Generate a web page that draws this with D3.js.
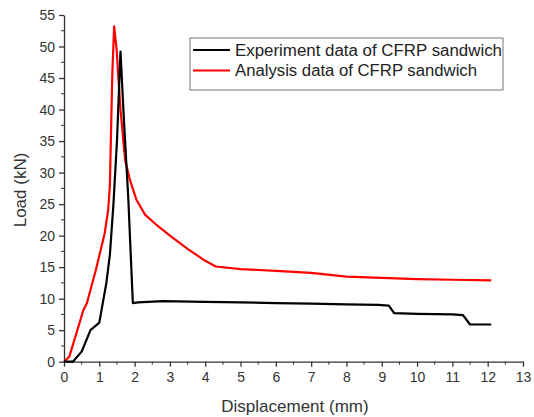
<!DOCTYPE html>
<html><head><meta charset="utf-8">
<script src="https://cdn.jsdelivr.net/npm/d3@7"></script>
<style>body{margin:0;background:#fff}svg{display:block}text{font-family:"Liberation Sans",Arial,sans-serif}</style>
</head><body><svg id="c" width="534" height="417"></svg>
<script>
const seriesNames = ["Experiment data of CFRP sandwich", "Analysis data of CFRP sandwich"];
const seriesColors = ["#000000", "#ff0000"];
const experimentX = [0,0.25,0.5,0.75,1.0,1.2,1.3,1.4,1.5,1.6,1.7,1.82,1.95,2.1,2.8,4,5,6,7,8,8.9,9.2,9.35,10,11,11.3,11.5,12.1];
const experimentY = [0,0,1.6,5,6.2,12.5,17,25,35,49.2,38,26,9.3,9.4,9.6,9.5,9.4,9.3,9.2,9.1,9.0,8.9,7.7,7.6,7.5,7.4,5.9,5.9];
const analysisX = [0,0.15,0.35,0.55,0.65,0.9,1.15,1.25,1.3,1.33,1.37,1.42,1.49,1.6,1.73,1.87,2.05,2.3,2.6,3.0,3.5,4.0,4.3,5,6,7,8,9,10,11,12.1];
const analysisY = [0,0.8,4.5,8.2,9.3,14.5,20.3,24,28,36,46,53.2,49.5,40,32,28.8,25.7,23.3,21.8,20,17.9,16,15.1,14.7,14.4,14.1,13.5,13.3,13.1,13,12.9];
const xTicks = [0,1,2,3,4,5,6,7,8,9,10,11,12,13];
const yTicks = [0,5,10,15,20,25,30,35,40,45,50,55];

const svg = d3.select("#c");
const x = d3.scaleLinear().domain([0,13]).range([64,523]);
const y = d3.scaleLinear().domain([0,55]).range([361.7,15]);

const xMinor = d3.range(0.5,13,1);
const yMinor = d3.range(2.5,55,5);
svg.append("g").selectAll("line").data(xMinor).join("line")
  .attr("x1",d=>x(d)).attr("x2",d=>x(d)).attr("y1",y(0)).attr("y2",y(0)+3)
  .attr("stroke","#333").attr("stroke-width",1);
svg.append("g").selectAll("line").data(yMinor).join("line")
  .attr("y1",d=>y(d)).attr("y2",d=>y(d)).attr("x1",x(0)).attr("x2",x(0)-3)
  .attr("stroke","#333").attr("stroke-width",1);

const xAxis = svg.append("g").attr("transform",`translate(0,${y(0)})`)
  .call(d3.axisBottom(x).tickValues(xTicks).tickSize(5).tickSizeOuter(0).tickPadding(5));
const yAxis = svg.append("g").attr("transform",`translate(${x(0)},0)`)
  .call(d3.axisLeft(y).tickValues(yTicks).tickSize(5).tickSizeOuter(0).tickPadding(4));
[xAxis,yAxis].forEach(a=>{
  a.selectAll("path").attr("stroke","#333").attr("stroke-width",1.3);
  a.selectAll("line").attr("stroke","#333").attr("stroke-width",1.3);
  a.selectAll("text").attr("font-size",14).attr("fill","#333").style("font-family","'Liberation Sans',Arial,sans-serif");
});

const line = d3.line().x(d=>x(d[0])).y(d=>y(d[1]));
const data = [d3.zip(experimentX,experimentY), d3.zip(analysisX,analysisY)];
[1,0].forEach(i=>{
  svg.append("path").datum(data[i]).attr("d",line).attr("fill","none")
    .attr("stroke",seriesColors[i]).attr("stroke-width",2.2).attr("stroke-linejoin","round");
});

const lg = svg.append("g");
lg.append("rect").attr("x",190).attr("y",38).attr("width",313).attr("height",52)
  .attr("fill","#fff").attr("stroke","#777").attr("stroke-width",1);
const legendWidths = [267, 242];
seriesNames.forEach((n,i)=>{
  const yy = 50 + i*20.5;
  lg.append("line").attr("x1",193).attr("x2",230).attr("y1",yy).attr("y2",yy)
    .attr("stroke",seriesColors[i]).attr("stroke-width",2);
  lg.append("text").attr("x",235).attr("y",yy+5.5).attr("font-size",16)
    .attr("textLength",legendWidths[i]).attr("lengthAdjust","spacingAndGlyphs")
    .attr("fill","#222").text(n);
});

svg.append("text").attr("x",295).attr("y",412).attr("text-anchor","middle")
  .attr("font-size",17).attr("fill","#333").text("Displacement (mm)");
svg.append("text").attr("transform","translate(26,190) rotate(-90)").attr("text-anchor","middle")
  .attr("font-size",17).attr("fill","#333").text("Load (kN)");
</script></body></html>
